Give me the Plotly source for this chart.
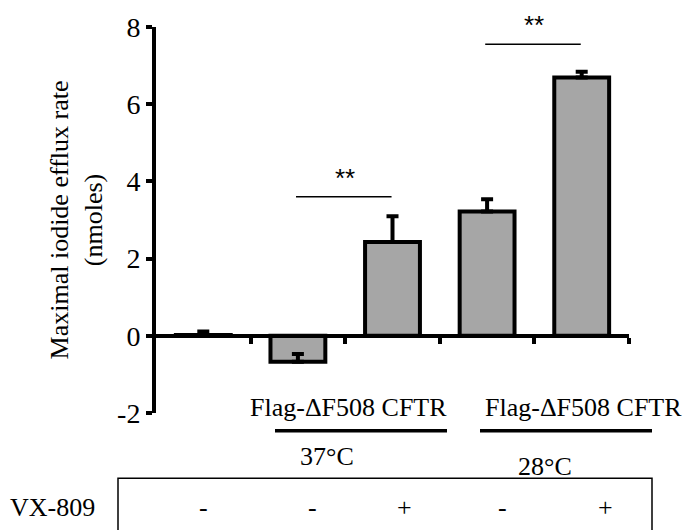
import plotly.graph_objects as go

categories = ["Ctrl", "dF508 37C -", "dF508 37C +", "dF508 28C -", "dF508 28C +"]
values = [0.02, -0.67, 2.43, 3.22, 6.69]
errors = [0.09, 0.2, 0.67, 0.32, 0.15]
y_ticks = [-2, 0, 2, 4, 6, 8]
y_ticktext = ["-2", "0", "2", "4", "6", "8"]
vx809 = ["-", "-", "+", "-", "+"]
group_labels = ["Flag-ΔF508 CFTR", "Flag-ΔF508 CFTR"]
temp_labels = ["37°C", "28°C"]

W, H = 687, 530
L, R, T, B = 156, 58, 23, 117
FONT = "Liberation Serif, Times New Roman, serif"
FS = 26


def px(xp):
    return (xp - L) / (W - L - R)


def py(yp):
    return (H - B - yp) / (H - T - B)


x = list(range(len(categories)))

fig = go.Figure()
fig.add_trace(go.Bar(
    x=x, y=values, width=0.58,
    marker=dict(color="#a6a6a6", line=dict(color="black", width=4)),
    error_y=dict(type="data", symmetric=False, array=errors,
                 arrayminus=[0] * len(errors), color="black", thickness=4, width=6),
))

# significance brackets (data coords)
for (x0, x1, yl) in [(1, 2, 3.6), (3, 4, 7.55)]:
    fig.add_shape(type="line", x0=x0 - 0.02, x1=x1 - 0.01, y0=yl, y1=yl,
                  xref="x", yref="y", line=dict(color="black", width=1.5))
    fig.add_annotation(x=(x0 + x1) / 2, y=yl + 0.05, text="**", showarrow=False,
                       xref="x", yref="y", yanchor="bottom",
                       font=dict(family="Arial", size=26, color="black"))

anns = []
# group labels
for cx, lab in zip([348, 583], group_labels):
    anns.append(dict(x=px(cx), y=py(407), text=lab))
for (a, b_) in [(275, 447), (480, 652)]:
    fig.add_shape(type="line", xref="paper", yref="paper",
                  x0=px(a), x1=px(b_), y0=py(431), y1=py(431),
                  line=dict(color="black", width=3.5))
for cx, cy, lab in zip([327, 545], [457, 467], temp_labels):
    anns.append(dict(x=px(cx), y=py(cy), text=lab))
# VX-809 box
fig.add_shape(type="path", xref="paper", yref="paper",
              path=f"M {px(118)} {py(535)} L {px(118)} {py(479)} L {px(652)} {py(479)} L {px(652)} {py(535)}",
              line=dict(color="black", width=1.5))
anns.append(dict(x=px(52), y=py(508), text="VX-809"))
for cx, s in zip([203, 312, 404, 502, 605], vx809):
    anns.append(dict(x=px(cx), y=py(508), text=s))

for a in anns:
    fig.add_annotation(xref="paper", yref="paper", showarrow=False,
                       xanchor="center", yanchor="middle",
                       font=dict(family=FONT, size=FS, color="black"), **a)

fig.update_layout(
    width=W, height=H,
    margin=dict(l=L, r=R, t=T, b=B, pad=0),
    plot_bgcolor="white", paper_bgcolor="white",
    showlegend=False,
    font=dict(family=FONT, color="black"),
    xaxis=dict(range=[-0.5, 4.5], anchor="free", position=0.2,
               showline=True, linecolor="black", linewidth=4,
               ticks="outside", tickvals=[0.5, 1.5, 2.5, 3.5, 4.5],
               ticklen=6, tickwidth=4, tickcolor="black",
               showticklabels=False, showgrid=False, zeroline=False),
    yaxis=dict(range=[-2, 8], tickvals=y_ticks, ticktext=y_ticktext,
               showline=True, linecolor="black", linewidth=4,
               ticks="outside", ticklen=6, tickwidth=4, tickcolor="black",
               tickfont=dict(family=FONT, size=28, color="black"),
               showgrid=False, zeroline=False,
               title=dict(text="Maximal iodide efflux rate<br>(nmoles)",
                          font=dict(family=FONT, size=FS, color="black"),
                          standoff=8)),
)

fig.write_html("out.html")
